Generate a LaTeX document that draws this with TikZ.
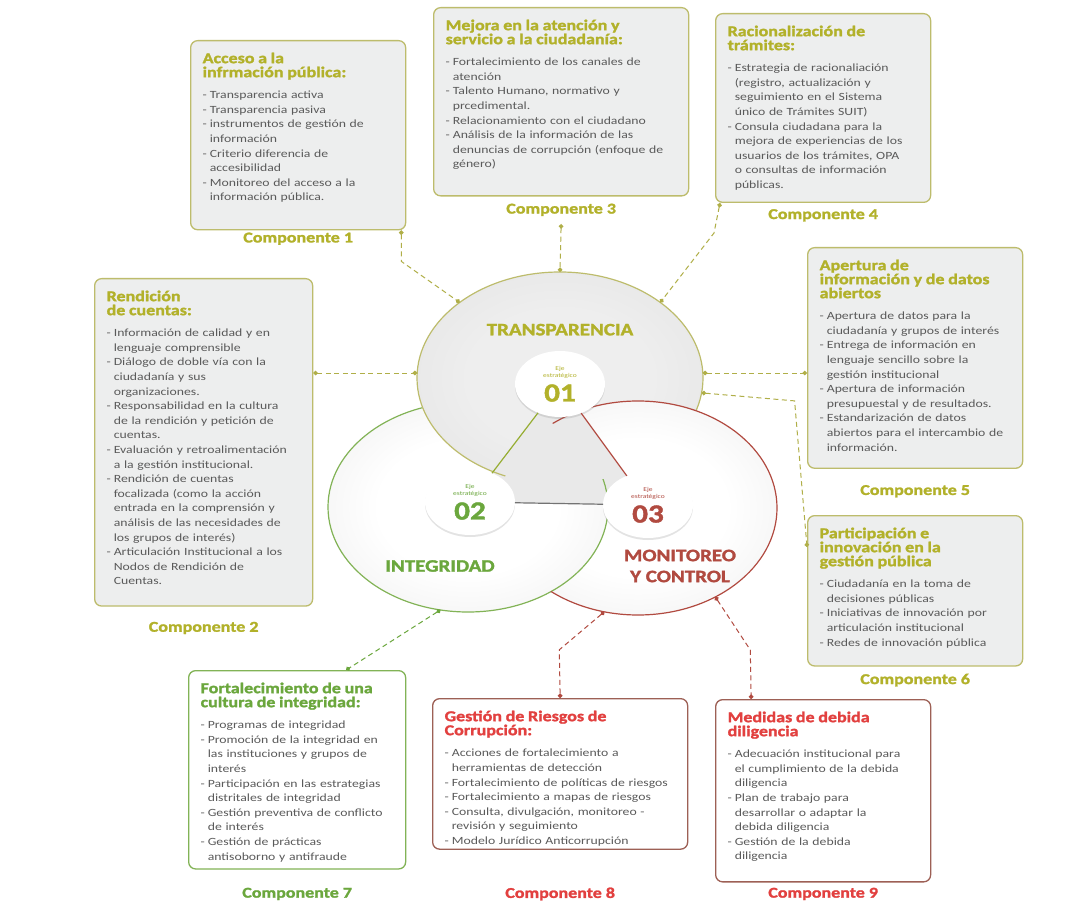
\documentclass[tikz,border=0pt]{standalone}
\usepackage{fontspec}
\setmainfont{Carlito}[FakeStretch=1.25]
\newfontfamily\titulofont{Carlito}[FakeStretch=1.2, BoldFeatures={FakeBold=1.6}]
\usetikzlibrary{positioning,shapes.geometric,arrows.meta,shadows}

\definecolor{olivaTexto}{HTML}{B2B12A}
\definecolor{olivaBorde}{HTML}{BDBC6C}
\definecolor{olivaLinea}{HTML}{B0AF48}
\definecolor{verdeTexto}{HTML}{6BA73D}
\definecolor{verdeBorde}{HTML}{82B356}
\definecolor{rojoTexto}{HTML}{E2403F}
\definecolor{rojoOscuro}{HTML}{B14A40}
\definecolor{rojoBorde}{HTML}{9D6055}
\definecolor{grisCaja}{HTML}{EDEEEE}
\definecolor{grisTexto}{HTML}{5A5A5A}
\definecolor{grisAro}{HTML}{E2E2E2}
\definecolor{grisAroT}{HTML}{DCDCDC}
\definecolor{grisCentro}{HTML}{EEEEEE}
\definecolor{grisTriangulo}{HTML}{E9E9E9}

\pgfdeclareradialshading{disco}{\pgfpoint{0bp}{0bp}}{color(0bp)=(white); color(16bp)=(white); color(50bp)=(grisAro)}
\pgfdeclareradialshading{discoGris}{\pgfpoint{0bp}{0bp}}{color(0bp)=(grisCentro); color(16bp)=(grisCentro); color(50bp)=(grisAroT)}

\newcommand{\titulo}[2]{{\titulofont\fontsize{15}{14}\selectfont\bfseries\color{#1}#2\par}\vspace{7pt}}
\newcommand{\guion}[1]{\par\hangindent=0.65em\hangafter=1\noindent\makebox[0.65em][l]{-}#1}

\begin{document}
\begin{tikzpicture}[x=1pt,y=-1pt]
		\tikzstyle{component} = [rectangle, rounded corners=7pt, draw=olivaBorde, line width=1.3pt, fill=grisCaja, anchor=north west, inner xsep=12pt, inner ysep=12pt, text=grisTexto, align=left, font=\fontsize{11}{14.6}\selectfont]
		\tikzstyle{greenComponent} = [component, draw=verdeBorde, fill=white]
		\tikzstyle{redComponent} = [component, draw=rojoBorde, fill=white]
		\tikzstyle{compLabel} = [font=\titulofont\fontsize{15}{14}\selectfont\bfseries, text=olivaTexto, inner sep=1pt]
		\tikzstyle{ejeCirculo} = [ellipse, shade, shading=disco, outer sep=0pt, inner sep=0pt]
		\tikzstyle{badge} = [ellipse, fill=white, drop shadow={opacity=0.22, shadow xshift=0pt, shadow yshift=-2pt}, inner sep=0pt, outer sep=0pt, minimum width=90pt, minimum height=66pt, text width=50pt, align=center]
		\tikzstyle{ejeLabel} = [font=\titulofont\fontsize{17.5}{21}\selectfont\bfseries, align=center]
		\tikzstyle{connects} = [draw=olivaLinea, dashed, dash pattern=on 5pt off 3.5pt, line width=1pt, {Circle[length=4.5pt]}-{Circle[length=4.5pt]}]

		\fill[white] (0,0) rectangle (1087,909);
		\useasboundingbox (0,0) rectangle (1087,909);

		% ejes estrategicos
		\node (ejeMonitoreo) [ejeCirculo, minimum width=278, minimum height=214] at (638,508) {};
		\node (ejeIntegridad) [ejeCirculo, minimum width=280, minimum height=210] at (468,507) {};
		\begin{scope}[even odd rule]
			\clip (0,0) rectangle (1087,909) (638,508) ellipse [x radius=139, y radius=107];
			\node (ejeTransparencia) [ejeCirculo, shading=discoGris, minimum width=286, minimum height=212] at (560,378) {};
		\end{scope}

		\coordinate (centro01) at (560,384);
		\coordinate (centro02) at (470,502);
		\coordinate (centro03) at (648,505);
		\fill[grisTriangulo] (centro01) -- (centro02) -- (centro03) -- cycle;

		\begin{scope}[even odd rule]
			\clip (0,0) rectangle (1087,909) (ejeTransparencia.center) ellipse [x radius=143, y radius=106];
			\draw[verdeBorde, line width=1.2pt] (ejeIntegridad.center) ellipse [x radius=140, y radius=105];
		\end{scope}
		\begin{scope}[even odd rule]
			\clip (0,0) rectangle (1087,909) (ejeMonitoreo.center) ellipse [x radius=139, y radius=107];
			\draw[olivaBorde, line width=1.2pt] (ejeTransparencia.center) ellipse [x radius=143, y radius=106];
		\end{scope}
		\begin{scope}[even odd rule]
			\clip (0,0) rectangle (1087,909) (ejeIntegridad.center) ellipse [x radius=140, y radius=105];
			\draw[rojoOscuro, line width=1.2pt] (ejeMonitoreo.center) ellipse [x radius=139, y radius=107];
		\end{scope}

		\node (badge01) [badge, text=olivaTexto] at (centro01) {{\fontsize{6}{7}\selectfont Eje\\estratégico\par}{\titulofont\fontsize{26}{24}\selectfont\bfseries 01\par}};
		\node (badge02) [badge, text=verdeTexto] at (centro02) {{\fontsize{6}{7}\selectfont Eje\\estratégico\par}{\titulofont\fontsize{26}{24}\selectfont\bfseries 02\par}};
		\node (badge03) [badge, text=rojoOscuro] at (centro03) {{\fontsize{6}{7}\selectfont Eje\\estratégico\par}{\titulofont\fontsize{26}{24}\selectfont\bfseries 03\par}};
		\draw [olivaTexto!60!verdeTexto, line width=1.2pt] (badge01) -- (badge02);
		\draw [rojoOscuro, line width=1.2pt] (badge01) -- (badge03);
		\draw [black!55, line width=1.2pt] (badge02) -- (badge03);

		\node (transparenciaLabel) [ejeLabel, text=olivaTexto, above=12pt of badge01] {TRANSPARENCIA};
		\node (integridadLabel) [ejeLabel, text=verdeTexto] at (440,566) {INTEGRIDAD};
		\node (monitoreoLabel) [ejeLabel, text=rojoOscuro] at (680,566) {MONITOREO\\Y CONTROL};

		% componentes
		\node (accesoInfo) [component, text width=191pt] at (190,40) {\titulo{olivaTexto}{Acceso a la\newline infrmación pública:}
			\guion{Transparencia activa}
			\guion{Transparencia pasiva}
			\guion{instrumentos de gestión de\newline información}
			\guion{Criterio diferencia de\newline accesibilidad}
			\guion{Monitoreo del acceso a la\newline información pública.}
			\par\vspace*{15pt}};
		\node (mejoraAtencion) [component, text width=231pt] at (433,7) {\titulo{olivaTexto}{Mejora en la atención y\newline servicio a la ciudadanía:}
			\guion{Fortalecimiento de los canales de\newline atención}
			\guion{Talento Humano, normativo y\newline prcedimental.}
			\guion{Relacionamiento con el ciudadano}
			\guion{Análisis de la información de las\newline denuncias de corrupción (enfoque de\newline género)}
			\par\vspace*{14pt}};
		\node (racionalizacion) [component, text width=191pt] at (715,13) {\titulo{olivaTexto}{Racionalización de\newline trámites:}
			\guion{Estrategia de racionaliación\newline (registro, actualización y\newline seguimiento en el Sistema\newline único de Trámites SUIT)}
			\guion{Consula ciudadana para la\newline mejora de experiencias de los\newline usuarios de los trámites, OPA\newline o consultas de información\newline públicas.}
			\par};
		\node (rendicionCuentas) [component, text width=194pt] at (94,278) {\titulo{olivaTexto}{Rendición\newline de cuentas:}
			\guion{Información de calidad y en\newline lenguaje comprensible}
			\guion{Diálogo de doble vía con la\newline ciudadanía y sus\newline organizaciones.}
			\guion{Responsabilidad en la cultura\newline de la rendición y petición de\newline cuentas.}
			\guion{Evaluación y retroalimentación\newline a la gestión institucional.}
			\guion{Rendición de cuentas\newline focalizada (como la acción\newline entrada en la comprensión y\newline análisis de las necesidades de\newline los grupos de interés)}
			\guion{Articulación Institucional a los\newline Nodos de Rendición de\newline Cuentas.}
			\par\vspace*{9pt}};
		\node (aperturaDatos) [component, text width=191pt] at (807,247) {\titulo{olivaTexto}{Apertura de\newline información y de datos\newline abiertos}
			\guion{Apertura de datos para la\newline ciudadanía y grupos de interés}
			\guion{Entrega de información en\newline lenguaje sencillo sobre la\newline gestión institucional}
			\guion{Apertura de información\newline presupuestal y de resultados.}
			\guion{Estandarización de datos\newline abiertos para el intercambio de\newline información.}
			\par\vspace*{5pt}};
		\node (participacion) [component, text width=191pt] at (807,515) {\titulo{olivaTexto}{Participación e\newline innovación en la\newline gestión pública}
			\guion{Ciudadanía en la toma de\newline decisiones públicas}
			\guion{Iniciativas de innovación por\newline articulación institucional}
			\guion{Redes de innovación pública}
			\par\vspace*{6pt}};
		\node (culturaIntegridad) [greenComponent, text width=193pt] at (188,670) {\titulo{verdeTexto}{Fortalecimiento de una\newline cultura de integridad:}
			\guion{Programas de integridad}
			\guion{Promoción de la integridad en\newline las instituciones y grupos de\newline interés}
			\guion{Participación en las estrategias\newline distritales de integridad}
			\guion{Gestión preventiva de conflicto\newline de interés}
			\guion{Gestión de prácticas\newline antisoborno y antifraude}
			\par\vspace*{-5pt}};
		\node (riesgosCorrupcion) [redComponent, text width=231pt] at (432,698) {\titulo{rojoTexto}{Gestión de Riesgos de\newline Corrupción:}
			\guion{Acciones de fortalecimiento a\newline herramientas de detección}
			\guion{Fortalecimiento de políticas de riesgos}
			\guion{Fortalecimiento a mapas de riesgos}
			\guion{Consulta, divulgación, monitoreo -\newline revisión y seguimiento}
			\guion{Modelo Jurídico Anticorrupción}
			\par\vspace*{-9pt}};
		\node (debidaDiligencia) [redComponent, text width=191pt] at (715,699) {\titulo{rojoTexto}{Medidas de debida\newline diligencia}
			\guion{Adecuación institucional para\newline el cumplimiento de la debida\newline diligencia}
			\guion{Plan de trabajo para\newline desarrollar o adaptar la\newline debida diligencia}
			\guion{Gestión de la debida\newline diligencia}
			\par\vspace*{8pt}};

		\node (componente1) [compLabel, below=1pt of accesoInfo] {Componente 1};
		\node (componente2) [compLabel, below=14pt of rendicionCuentas] {Componente 2};
		\node (componente3) [compLabel, below=6pt of mejoraAtencion] {Componente 3};
		\node (componente4) [compLabel, below=5pt of racionalizacion] {Componente 4};
		\node (componente5) [compLabel, below=15pt of aperturaDatos] {Componente 5};
		\node (componente6) [compLabel, below=6pt of participacion] {Componente 6};
		\node (componente7) [compLabel, text=verdeTexto, below=17pt of culturaIntegridad] {Componente 7};
		\node (componente8) [compLabel, text=rojoTexto] at (riesgosCorrupcion.south |- componente7) {Componente 8};
		\node (componente9) [compLabel, text=rojoTexto] at (debidaDiligencia.south |- componente7) {Componente 9};

		% enlaces
		\draw [connects] ([xshift=-5pt]accesoInfo.south east) -- ++(0,31) -- (ejeTransparencia.143);
		\draw [connects] ([yshift=-7pt]componente3.south) -- (ejeTransparencia.north);
		\draw [connects] ([xshift=5pt]racionalizacion.south west) -- ++(-6,30) -- (ejeTransparencia.37);
		\draw [connects] (rendicionCuentas.east |- ejeTransparencia.178) -- (ejeTransparencia.178);
		\draw [connects] (ejeTransparencia.2) -- (aperturaDatos.west |- ejeTransparencia.2);
		\draw [connects] (ejeTransparencia.-6) -- ++(93,8) -- ([yshift=-32pt]participacion.north west);
		\draw [connects, draw=verdeTexto] (ejeIntegridad.-105) -- ([xshift=49pt]culturaIntegridad.north);
		\draw [connects, draw=rojoOscuro] (ejeMonitoreo.-108) -- ++(-45,38) -- (riesgosCorrupcion.north);
		\draw [connects, draw=rojoOscuro] (ejeMonitoreo.-49) -- ++(35,53) -- ([xshift=-72pt]debidaDiligencia.north);

\end{tikzpicture}
\end{document}
